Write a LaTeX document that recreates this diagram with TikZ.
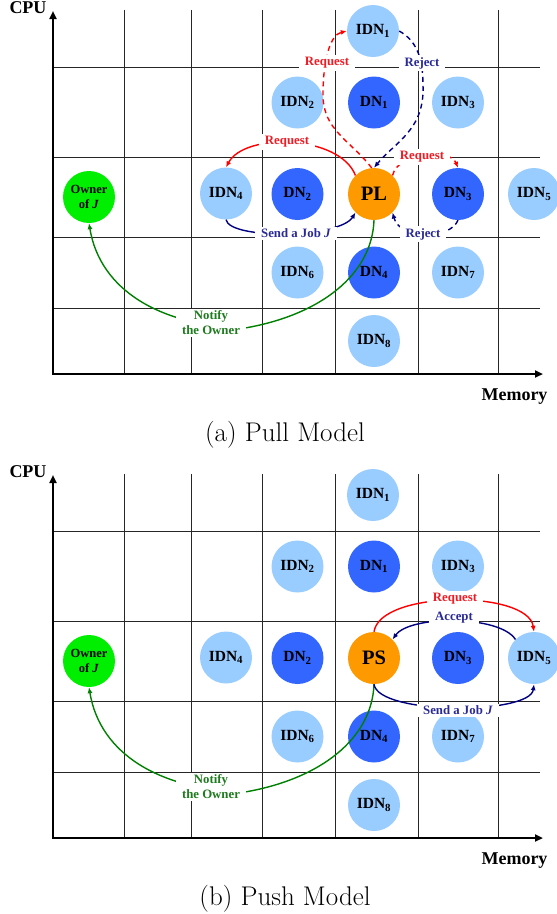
\documentclass[tikz,border=0pt]{standalone}
\usepackage{fontspec}
\newfontfamily\tnr{Liberation Serif}
\usetikzlibrary{arrows.meta}
\definecolor{idnc}{HTML}{99CCFF}
\definecolor{dnc}{HTML}{3366FF}
\definecolor{plc}{HTML}{FF9900}
\definecolor{ownc}{HTML}{00EE00}
\definecolor{redl}{HTML}{FF0000}
\definecolor{redt}{HTML}{EE1C24}
\definecolor{navyl}{HTML}{000080}
\definecolor{navyt}{HTML}{2A2A96}
\definecolor{greenl}{HTML}{008000}
\definecolor{greent}{HTML}{1E7B1E}
\tikzset{
 nodebase/.style={circle,minimum size=52pt,inner sep=0pt,text=black,font=\tnr\bfseries\fontsize{15.5}{15.5}\selectfont},
 idn/.style={nodebase,fill=idnc},
 dn/.style={nodebase,fill=dnc},
 ctr/.style={nodebase,fill=plc,font=\tnr\bfseries\fontsize{20.5}{20.5}\selectfont},
 owner/.style={nodebase,fill=ownc,align=center,font=\tnr\bfseries\fontsize{12.5}{15}\selectfont},
 gridline/.style={line width=0.9pt,black!85},
 axis/.style={line width=2.4pt,line join=miter,{Triangle[length=8pt,width=7pt]}-{Triangle[length=8pt,width=7pt]}},
 conn/.style={line width=1.4pt,-{Latex[length=6pt,width=5pt]}},
 dashedconn/.style={conn,dash pattern=on 5pt off 4pt},
 lbl/.style={fill=white,inner xsep=6pt,inner ysep=2pt,align=center,font=\tnr\bfseries\fontsize{12.8}{15}\selectfont},
 axlbl/.style={font=\tnr\bfseries\fontsize{18}{18}\selectfont,anchor=base},
 captext/.style={font=\fontsize{27}{30}\selectfont,anchor=base},
}
\newcommand\drawpanel[3]{%
 \foreach \gx in {124,191,262,335,418,498} \draw[gridline] (\gx,10) -- (\gx,374);
 \foreach \gy in {67,157,237,308} \draw[gridline] (53,\gy) -- (540,\gy);
 \draw[axis] (53,11) -- (53,374) -- (543,374);
 \node[axlbl] (#1cpu) at (28,13.3) {CPU};
 \node[axlbl] (#1mem) at (514.5,400.5) {Memory};
 \node[captext] (#1cap) at (285,441) {#3};
 \node[idn] (#1i1) at (373,31) {IDN\textsubscript{1}};
 \node[idn] (#1i2) at (297.5,102.5) {IDN\textsubscript{2}};
 \node[dn]  (#1d1) at (374,102.5) {DN\textsubscript{1}};
 \node[idn] (#1i3) at (458,102.5) {IDN\textsubscript{3}};
 \node[owner] (#1own) at (89,197) {Owner\\of \textit{J}};
 \node[idn] (#1i4) at (226,193.5) {IDN\textsubscript{4}};
 \node[dn]  (#1d2) at (297.5,194) {DN\textsubscript{2}};
 \node[ctr] (#1c) at (374,194) {#2};
 \node[dn]  (#1d3) at (458,194) {DN\textsubscript{3}};
 \node[idn] (#1i5) at (534,194) {IDN\textsubscript{5}};
 \node[idn] (#1i6) at (297.5,272.5) {IDN\textsubscript{6}};
 \node[dn]  (#1d4) at (374,272.5) {DN\textsubscript{4}};
 \node[idn] (#1i7) at (458,272.5) {IDN\textsubscript{7}};
 \node[idn] (#1i8) at (374,341) {IDN\textsubscript{8}};
 \draw[conn,greenl] (#1c.south) .. controls (372,275) and (320,315) .. (245,328)
   .. controls (160,326) and (100,290) .. (#1own.south);
 \node[lbl,text=greent] (#1notify) at (211,323) {Notify\\the Owner};
}
\begin{document}
\begin{tikzpicture}[x=1pt,y=-1pt]
\useasboundingbox (0,0) rectangle (557,914);
% (a) Pull model
\drawpanel{a-}{PL}{(a) Pull Model}
\draw[dashedconn,redl] (a-c.95) .. controls (350,140) and (323,130) .. (323,95)
   .. controls (323,60) and (330,35) .. (a-i1.west);
\draw[dashedconn,navyl] (a-i1.east) .. controls (415,40) and (423,55) .. (423,85)
   .. controls (425,130) and (395,142) .. (a-c.north);
\draw[conn,redl] (a-c.135) .. controls (340,135) and (245,132) .. (a-i4.north);
\draw[dashedconn,redl] (a-c.45) .. controls (398,152) and (450,148) .. (a-d3.north);
\draw[dashedconn,navyl] (a-d3.south) .. controls (450,240) and (400,240) .. (a-c.-45);
\draw[conn,navyl] (a-i4.south) .. controls (230,240) and (340,238) .. (a-c.225);
\node[lbl,text=redt] (a-l1) at (327,63) {Request};
\node[lbl,text=navyt] (a-l2) at (422,63) {Reject};
\node[lbl,text=redt] (a-l3) at (287,142) {Request};
\node[lbl,text=redt] (a-l4) at (422,157) {Request};
\node[lbl,text=navyt] (a-l5) at (423,234) {Reject};
\node[lbl,text=navyt] (a-l6) at (296,233) {Send a Job \textit{J}};
% (b) Push model
\begin{scope}[yshift=-464pt]
\drawpanel{b-}{PS}{(b) Push Model}
\draw[conn,redl] (b-c.north) .. controls (380,126) and (528,126) .. (b-i5.north);
\draw[conn,navyl] (b-i5.135) .. controls (500,151) and (410,151) .. (b-c.45);
\draw[conn,navyl] (b-c.south) .. controls (378,251) and (530,251) .. (b-i5.south);
\node[lbl,text=redt] (b-l1) at (455,135) {Request};
\node[lbl,text=navyt] (b-l2) at (454,154) {Accept};
\node[lbl,text=navyt] (b-l3) at (458,246) {Send a Job \textit{J}};
\end{scope}
\end{tikzpicture}
\end{document}
